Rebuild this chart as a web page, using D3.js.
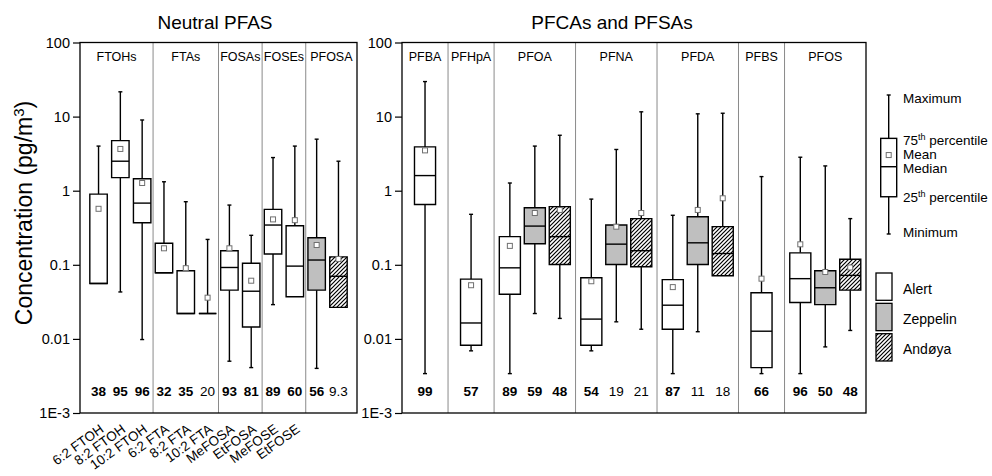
<!DOCTYPE html>
<html><head><meta charset="utf-8">
<script src="https://cdn.jsdelivr.net/npm/d3@7"></script>
<style>
body{margin:0;background:#fff}
svg{display:block}
text{font-family:"Liberation Sans",Arial,Helvetica,sans-serif;fill:#000}
</style>
</head><body>
<svg id="c" width="992" height="476"></svg>
<script>
// ---------------- DATA ----------------
const yTickValues = [0.001, 0.01, 0.1, 1, 10, 100];
const yTickLabels = ["1E-3", "0.01", "0.1", "1", "10", "100"];
const sites = ["Alert", "Zeppelin", "Andøya"];

// Neutral PFAS panel
const neutralLabels = ["6:2 FTOH","8:2 FTOH","10:2 FTOH","6:2 FTA","8:2 FTA","10:2 FTA","MeFOSA","EtFOSA","MeFOSE","EtFOSE","",""];
const neutralGroups = ["FTOHs","FTOHs","FTOHs","FTAs","FTAs","FTAs","FOSAs","FOSAs","FOSEs","FOSEs","PFOSA","PFOSA"];
const neutralSites  = ["Alert","Alert","Alert","Alert","Alert","Alert","Alert","Alert","Alert","Alert","Zeppelin","Andøya"];
const neutralMin    = [0.056, 0.043, 0.0098, 0.078, 0.022, 0.022, 0.005, 0.0041, 0.029, 0.037, 0.004, 0.0266];
const neutralQ1     = [0.056, 1.5, 0.37, 0.078, 0.022, 0.022, 0.0455, 0.0145, 0.14, 0.037, 0.0455, 0.0266];
const neutralMedian = [0.056, 2.5, 0.68, 0.078, 0.022, 0.022, 0.092, 0.044, 0.344, 0.096, 0.116, 0.070];
const neutralQ3     = [0.9, 4.74, 1.45, 0.195, 0.083, 0.022, 0.155, 0.105, 0.56, 0.336, 0.232, 0.128];
const neutralMax    = [4.0, 21.6, 9.0, 1.32, 0.71, 0.22, 0.64, 0.25, 2.8, 4.0, 4.96, 2.5];
const neutralMean   = [0.57, 3.66, 1.27, 0.167, 0.09, 0.036, 0.167, 0.061, 0.41, 0.40, 0.185, 0.12];
const neutralDF     = ["38","95","96","32","35","20","93","81","89","60","56","9.3"];
const neutralBold   = [1,1,1,1,1,0,1,1,1,1,1,0];

// PFCAs and PFSAs panel
const ionicGroups = ["PFBA","PFHpA","PFOA","PFOA","PFOA","PFNA","PFNA","PFNA","PFDA","PFDA","PFDA","PFBS","PFOS","PFOS","PFOS"];
const ionicSites  = ["Alert","Alert","Alert","Zeppelin","Andøya","Alert","Zeppelin","Andøya","Alert","Zeppelin","Andøya","Alert","Alert","Zeppelin","Andøya"];
const ionicMin    = [0.0034, 0.0069, 0.0034, 0.022, 0.0189, 0.0069, 0.017, 0.0135, 0.0034, 0.0125, 0.071, 0.0034, 0.0034, 0.0078, 0.013];
const ionicQ1     = [0.65, 0.0082, 0.040, 0.192, 0.101, 0.0082, 0.101, 0.094, 0.0135, 0.101, 0.071, 0.0041, 0.031, 0.029, 0.0455];
const ionicMedian = [1.6, 0.0164, 0.091, 0.333, 0.24, 0.0185, 0.19, 0.155, 0.0285, 0.198, 0.142, 0.0127, 0.065, 0.049, 0.072];
const ionicQ3     = [3.9, 0.064, 0.24, 0.59, 0.61, 0.067, 0.344, 0.42, 0.063, 0.446, 0.327, 0.042, 0.145, 0.083, 0.119];
const ionicMax    = [29.7, 0.48, 1.27, 4.0, 5.6, 0.77, 3.6, 11.6, 0.466, 10.9, 11.1, 1.55, 2.83, 2.16, 0.42];
const ionicMean   = [3.5, 0.053, 0.18, 0.5, 0.55, 0.060, 0.327, 0.50, 0.050, 0.55, 0.79, 0.065, 0.189, 0.080, 0.092];
const ionicDF     = ["99","57","89","59","48","54","19","21","87","11","18","66","96","50","48"];
const ionicBold   = [1,1,1,1,1,1,0,0,1,0,0,1,1,1,1];

// legend illustration (relative positions of statistics on a unit scale)
const legendStats  = ["max","q3","mean","median","q1","min"];
const legendValues = [1, 0.688, 0.568, 0.484, 0.268, 0];
const legendTexts  = [["Maximum",""],["75","th percentile"],["Mean",""],["Median",""],["25","th percentile"],["Minimum",""]];

// ---------------- DRAWING ----------------
const svg = d3.select("#c");
const FONT = '"Liberation Sans",Arial,Helvetica,sans-serif';
const TOP = 42.5, BOTTOM = 413;
const y = d3.scaleLog().domain([1e-3, 100]).range([BOTTOM, TOP]);

const defs = svg.append("defs");
const pat = defs.append("pattern").attr("id","hatch").attr("patternUnits","userSpaceOnUse")
  .attr("width",4).attr("height",4);
pat.append("rect").attr("width",4).attr("height",4).attr("fill","#fff");
pat.append("path").attr("d","M-1,1 l2,-2 M0,4 l4,-4 M3,5 l2,-2").attr("stroke","#000").attr("stroke-width",1.2);
const fills = {"Alert":"#ffffff","Zeppelin":"#bfbfbf","Andøya":"url(#hatch)"};

function buildRows(groups, sitesArr, mn, q1, md, q3, mx, mean, df, bold, labels) {
  return groups.map((g,i)=>({id:i, group:g, site:sitesArr[i], min:mn[i], q1:q1[i], median:md[i],
    q3:q3[i], max:mx[i], mean:mean[i], df:df[i], bold:bold[i], label: labels ? labels[i] : ""}));
}

// point layout: evenly spaced boxes, dividers halfway between groups
function pointLayout(rows, x0, x1) {
  const xs = d3.scalePoint().domain(rows.map(r=>r.id)).range([x0,x1]).padding(0.85);
  const centers = rows.map(r=>xs(r.id));
  const groups = Array.from(new Set(rows.map(r=>r.group)));
  const sections = groups.map(g=>{
    const idx = rows.filter(r=>r.group===g).map(r=>r.id);
    const first = d3.min(idx), last = d3.max(idx);
    const a = first===0 ? x0 : (xs(first)+xs(first-1))/2;
    const b = last===rows.length-1 ? x1 : (xs(last)+xs(last+1))/2;
    return {name:g, a, b};
  });
  return {centers, sections, boxW: xs.step()*0.8};
}
// section layout: each group gets (n + k) units, boxes centred in their section
function sectionLayout(rows, x0, x1, k, stepUnits, widthUnits) {
  const groups = Array.from(new Set(rows.map(r=>r.group)));
  const counts = groups.map(g=>rows.filter(r=>r.group===g).length);
  const total = d3.sum(counts) + k*groups.length;
  const u = d3.scaleLinear().domain([0,total]).range([x0,x1]);
  let acc = 0;
  const starts = [];
  const sections = groups.map((g,i)=>{ starts.push(acc); const s={name:g,a:u(acc),b:u(acc+counts[i]+k)}; acc+=counts[i]+k; return s; });
  const centers = rows.map((r,i)=>{
    const gi = groups.indexOf(r.group);
    const j = rows.slice(0,i).filter(q=>q.group===r.group).length;
    const mid = starts[gi] + (counts[gi]+k)/2;
    return u(mid + (j-(counts[gi]-1)/2)*stepUnits);
  });
  return {centers, sections, boxW: u(widthUnits)-u(0)};
}

function drawPanel(rows, layout, x0, x1, opts) {
  const g = svg.append("g");
  // y axis
  const ax = d3.axisLeft(y).tickValues(yTickValues).tickFormat((d,i)=>yTickLabels[i]).tickSize(7).tickPadding(3);
  const axg = g.append("g").attr("transform",`translate(${x0},0)`).call(ax);
  axg.select(".domain").remove();
  axg.selectAll(".tick line").attr("stroke","#000").attr("stroke-width",1.2);
  axg.selectAll(".tick text").attr("font-size",14.5).attr("font-family",FONT).attr("fill","#000");

  // group dividers
  layout.sections.slice(1).forEach(s=>{
    g.append("line").attr("x1",s.a).attr("x2",s.a).attr("y1",TOP).attr("y2",BOTTOM)
      .attr("stroke","#8a8a8a").attr("stroke-width",1);
  });
  // group labels
  g.selectAll(".glab").data(layout.sections).join("text")
    .attr("x",d=>(d.a+d.b)/2).attr("y",57).attr("dy","0.35em")
    .attr("text-anchor","middle").attr("font-size",12.5).text(d=>d.name);

  // boxes
  const bw = layout.boxW, cap = 2;
  rows.forEach((r,i)=>{
    const cx = layout.centers[i];
    const bg = g.append("g");
    const yq1=y(r.q1), yq3=y(r.q3), ymin=y(r.min), ymax=y(r.max);
    if (yq3 - ymax > 0.5) {
      bg.append("line").attr("x1",cx).attr("x2",cx).attr("y1",yq3).attr("y2",ymax).attr("stroke","#000").attr("stroke-width",1.4);
      bg.append("line").attr("x1",cx-cap).attr("x2",cx+cap).attr("y1",ymax).attr("y2",ymax).attr("stroke","#000").attr("stroke-width",1.4);
    }
    if (ymin - yq1 > 0.5) {
      bg.append("line").attr("x1",cx).attr("x2",cx).attr("y1",yq1).attr("y2",ymin).attr("stroke","#000").attr("stroke-width",1.4);
      bg.append("line").attr("x1",cx-cap).attr("x2",cx+cap).attr("y1",ymin).attr("y2",ymin).attr("stroke","#000").attr("stroke-width",1.4);
    }
    const xl = cx-bw/2, xr = cx+bw/2;
    bg.append("path").attr("d",`M${xl},${yq3}H${xr}V${yq1}H${xl}Z`)
      .attr("fill",fills[r.site]).attr("stroke","#000").attr("stroke-width",1.4);
    bg.append("line").attr("x1",xl).attr("x2",xr).attr("y1",y(r.median)).attr("y2",y(r.median))
      .attr("stroke","#000").attr("stroke-width",1.4);
    bg.append("rect").attr("x",cx-2.5).attr("y",y(r.mean)-2.5).attr("width",5).attr("height",5)
      .attr("fill","#fff").attr("stroke","#707070").attr("stroke-width",1);
    // detection frequency
    g.append("text").attr("x",cx).attr("y",391).attr("dy","0.35em").attr("text-anchor","middle")
      .attr("font-size",13.5).attr("font-weight",r.bold?"bold":"normal").text(r.df);
    // x labels
    if (r.label) {
      g.append("text").attr("transform",`translate(${cx+6},431) rotate(-36)`)
        .attr("text-anchor","end").attr("font-size",13.5).text(r.label);
    }
  });

  // frame
  g.append("rect").attr("x",x0).attr("y",TOP).attr("width",x1-x0).attr("height",BOTTOM-TOP)
    .attr("fill","none").attr("stroke","#000").attr("stroke-width",1.3);

  // title
  g.append("text").attr("x",opts.titleX).attr("y",28.5).attr("text-anchor","middle")
    .attr("font-size",19).text(opts.title);
}

const neutralRows = buildRows(neutralGroups, neutralSites, neutralMin, neutralQ1, neutralMedian, neutralQ3, neutralMax, neutralMean, neutralDF, neutralBold, neutralLabels);
const ionicRows = buildRows(ionicGroups, ionicSites, ionicMin, ionicQ1, ionicMedian, ionicQ3, ionicMax, ionicMean, ionicDF, ionicBold, null);

const L0 = 80, L1 = 357, R0 = 402, R1 = 866;
drawPanel(neutralRows, pointLayout(neutralRows, L0, L1), L0, L1, {title:"Neutral PFAS", titleX:215});
drawPanel(ionicRows, sectionLayout(ionicRows, R0, R1, 1.6, 1.41, 1.19), R0, R1, {title:"PFCAs and PFSAs", titleX:612});

// y-axis title
const yt = svg.append("text").attr("transform","translate(32,213) rotate(-90)").attr("text-anchor","middle")
  .attr("font-size",23);
yt.append("tspan").text("Concentration (pg/m");
yt.append("tspan").attr("baseline-shift","super").attr("font-size",15).text("3");
yt.append("tspan").text(")");

// ---------------- LEGEND ----------------
const lx = 888.7, lw = 16;
const ly = d3.scaleLinear().domain([0,1]).range([234,95]);
const lv = {}; legendStats.forEach((s,i)=>lv[s]=legendValues[i]);
const lg = svg.append("g");
lg.append("line").attr("x1",lx).attr("x2",lx).attr("y1",ly(lv.max)).attr("y2",ly(lv.min)).attr("stroke","#000").attr("stroke-width",1.4);
[lv.max, lv.min].forEach(v=>lg.append("line").attr("x1",lx-2).attr("x2",lx+2).attr("y1",ly(v)).attr("y2",ly(v)).attr("stroke","#000").attr("stroke-width",1.4));
lg.append("rect").attr("x",lx-lw/2).attr("y",ly(lv.q3)).attr("width",lw).attr("height",ly(lv.q1)-ly(lv.q3))
  .attr("fill","#fff").attr("stroke","#000").attr("stroke-width",1.4);
lg.append("line").attr("x1",lx-lw/2).attr("x2",lx+lw/2).attr("y1",ly(lv.median)).attr("y2",ly(lv.median)).attr("stroke","#000").attr("stroke-width",1.4);
lg.append("rect").attr("x",lx-2.5).attr("y",ly(lv.mean)-2.5).attr("width",5).attr("height",5).attr("fill","#fff").attr("stroke","#707070");
const labelNudge = {max:3, q3:2, mean:-0.5, median:1.5, q1:1, min:-2};
legendStats.forEach((s,i)=>{
  const t = lg.append("text").attr("x",903).attr("y",ly(legendValues[i])+labelNudge[s]).attr("dy","0.35em").attr("font-size",13.5);
  t.append("tspan").text(legendTexts[i][0]);
  if (legendTexts[i][1]) {
    t.append("tspan").attr("baseline-shift","super").attr("font-size",9).text("th");
    t.append("tspan").text(legendTexts[i][1].slice(2));
  }
});

// site legend
const sy = d3.scaleBand().domain(sites).range([273, 361]).paddingInner(0.1);
sites.forEach(s=>{
  lg.append("rect").attr("x",876).attr("y",sy(s)).attr("width",16).attr("height",sy.bandwidth())
    .attr("fill",fills[s]).attr("stroke","#000").attr("stroke-width",1.3);
  lg.append("text").attr("x",903).attr("y",sy(s)+sy.bandwidth()/2+2).attr("dy","0.35em").attr("font-size",14).text(s);
});
</script>
</body></html>
